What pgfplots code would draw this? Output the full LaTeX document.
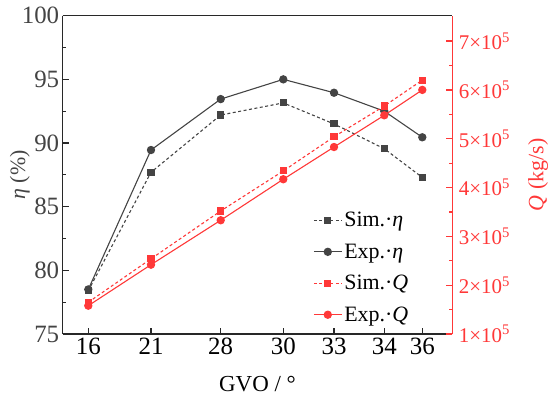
\documentclass[border=0pt]{standalone}
\usepackage{pgfplots}
\pgfplotsset{compat=1.18}
\usepackage{fontspec}
\setmainfont{Liberation Serif}
\newfontfamily\tickfont{Liberation Serif}
\definecolor{myred}{RGB}{255,56,56}
\definecolor{mygray}{RGB}{68,68,68}
\definecolor{axgray}{RGB}{40,40,40}
\begin{document}
\begin{tikzpicture}
\useasboundingbox (-62.7bp,-66bp) rectangle (487.3bp,334bp);
\begin{axis}[
  at={(0,0)}, anchor=south west,
  scale only axis, width=389.6bp, height=318.3bp,
  xmin=0, xmax=38.96, ymin=75, ymax=100,
  axis y line*=left, axis x line*=box,
  axis line style={axgray, line width=1.4bp},
  xtick={2.56,8.83,15.8,22.06,27.13,32.16,35.96},
  xticklabels={\tickfont 16,\tickfont 21,\tickfont 28,\tickfont 30,\tickfont 33,\tickfont 34,\tickfont 36},
  xtick pos=left,
  ytick={75,80,85,90,95,100},
  yticklabels={\tickfont 75,\tickfont 80,\tickfont 85,\tickfont 90,\tickfont 95,\tickfont 100},
  minor y tick num=1,
  tick align=inside,
  major tick length=6bp, minor tick length=3.5bp,
  tick style={axgray, line width=1.2bp},
  xticklabel style={font=\tickfont\fontsize{25}{25}\selectfont, black},
  yticklabel style={font=\tickfont\fontsize{25}{25}\selectfont, mygray},
  xlabel={GVO / °},
  ylabel={\textit{η} (\%)},
  xlabel style={font=\fontsize{23}{23}\selectfont, at={(axis description cs:0.5,-0.157)}, anchor=center},
  ylabel style={font=\fontsize{22}{22}\selectfont, mygray, at={(axis description cs:-0.11,0.5)}, anchor=center},
  clip=false,
]
\addplot[mygray, line width=1.1bp, dash pattern=on 3bp off 2.5bp, mark=square*, mark options={solid}, mark size=3bp]
  coordinates {(2.56,78.4) (8.83,87.7) (15.8,92.2) (22.06,93.15) (27.13,91.5) (32.16,89.55) (35.96,87.3)};
\addplot[mygray, line width=1.1bp, mark=*, mark size=3.6bp]
  coordinates {(2.56,78.5) (8.83,89.45) (15.8,93.45) (22.06,95.0) (27.13,93.95) (32.16,92.5) (35.96,90.45)};
\end{axis}
\begin{axis}[
  at={(0,0)}, anchor=south west,
  scale only axis, width=389.6bp, height=318.3bp,
  xmin=0, xmax=38.96, ymin=100000, ymax=752000,
  axis y line*=right, axis x line=none,
  y axis line style={myred, line width=1.4bp},
  ytick={100000,200000,300000,400000,500000,600000,700000},
  yticklabels={\tickfont 1×10\textsuperscript{5},\tickfont 2×10\textsuperscript{5},\tickfont 3×10\textsuperscript{5},\tickfont 4×10\textsuperscript{5},\tickfont 5×10\textsuperscript{5},\tickfont 6×10\textsuperscript{5},\tickfont 7×10\textsuperscript{5}},
  scaled y ticks=false,
  minor y tick num=1,
  tick align=inside,
  major tick length=6bp, minor tick length=3.5bp,
  ytick style={myred, line width=1.2bp},
  yticklabel style={font=\tickfont\fontsize{21}{21}\selectfont, myred, xshift=3bp},
  ylabel={\textit{Q} (kg/s)},
  ylabel style={font=\fontsize{22}{22}\selectfont, myred, at={(axis description cs:1.22,0.5)}, anchor=center, rotate=0},
  legend style={at={(axis description cs:0.64,0.392)}, anchor=north west, draw=none, fill=none,
    font=\fontsize{22}{22}\selectfont, row sep=11.5bp, inner sep=1bp},
  legend cell align=left,
  legend image code/.code={\draw[mark repeat=2,mark phase=2] plot coordinates {(0bp,0bp) (14bp,0bp) (28bp,0bp)};},
  clip=false,
]
\addlegendimage{mygray, line width=1.1bp, dash pattern=on 3bp off 2.5bp, mark=square*, mark options={solid}, mark size=3bp}
\addlegendentry{Sim.·\textit{η}}
\addlegendimage{mygray, line width=1.1bp, mark=*, mark size=3.6bp}
\addlegendentry{Exp.·\textit{η}}
\addplot[myred, line width=1.1bp, dash pattern=on 3bp off 2.5bp, mark=square*, mark options={solid}, mark size=3bp]
  coordinates {(2.56,165000) (8.83,254000) (15.8,352000) (22.06,434000) (27.13,504000) (32.16,567000) (35.96,620000)};
\addlegendentry{Sim.·\textit{Q}}
\addplot[myred, line width=1.1bp, mark=*, mark size=3.6bp]
  coordinates {(2.56,158000) (8.83,242000) (15.8,333000) (22.06,417000) (27.13,483000) (32.16,548000) (35.96,600000)};
\addlegendentry{Exp.·\textit{Q}}
\end{axis}
\end{tikzpicture}
\end{document}
